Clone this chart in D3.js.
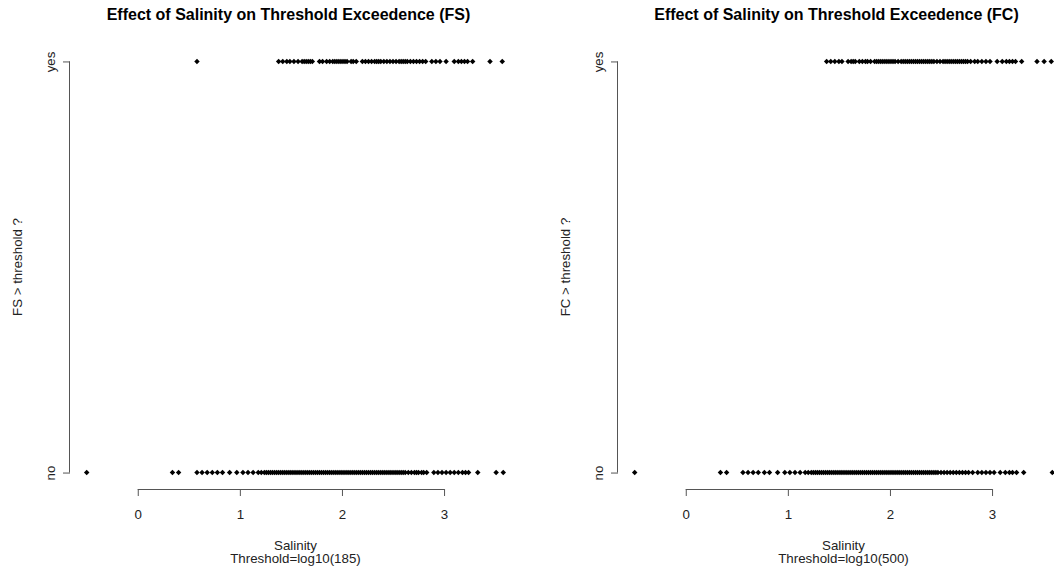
<!DOCTYPE html>
<html>
<head>
<meta charset="utf-8">
<script src="https://cdn.jsdelivr.net/npm/d3@7"></script>
<style>
  html, body { margin: 0; padding: 0; background: #fff; }
  svg { display: block; font-family: "Liberation Sans", Arial, Helvetica, sans-serif; }
</style>
</head>
<body>
<svg id="chart" width="1054" height="571"></svg>
<script>
// log10 salinity of samples, split by whether the indicator exceeded its threshold
const fsYes = [0.58, 1.38, 1.42, 1.46, 1.49, 1.53, 1.57, 1.61, 1.63, 1.65, 1.67, 1.69, 1.71,
  1.78, 1.81, 1.85, 1.88, 1.91, 1.93, 1.95, 1.97, 1.99, 2.01, 2.03, 2.05,
  2.09, 2.11, 2.14, 2.20, 2.23, 2.26, 2.29, 2.32, 2.34, 2.36, 2.38, 2.41, 2.44, 2.47, 2.50,
  2.53, 2.56, 2.58, 2.60, 2.62, 2.64, 2.67, 2.70, 2.73, 2.76, 2.79, 2.82,
  2.88, 2.92, 2.96, 3.02, 3.10, 3.14, 3.17, 3.20, 3.23, 3.28, 3.45, 3.57];
const fsNo = [-0.50, 0.34, 0.40, 0.58, 0.63, 0.68, 0.73, 0.78, 0.83, 0.90, 0.97, 1.03, 1.08, 1.13,
  1.18, 1.21, 1.24, 1.26, 1.28, 1.30, 1.32, 1.34, 1.36, 1.38, 1.40, 1.42, 1.44, 1.46, 1.48,
  1.50, 1.52, 1.54, 1.56, 1.58, 1.60, 1.62, 1.64, 1.66, 1.68, 1.70, 1.72, 1.74, 1.76, 1.78,
  1.80, 1.82, 1.84, 1.86, 1.88, 1.90, 1.92, 1.94, 1.96, 1.98, 2.00, 2.02, 2.04, 2.06, 2.08,
  2.10, 2.12, 2.14, 2.16, 2.18, 2.20, 2.22, 2.24, 2.26, 2.28, 2.30, 2.32, 2.34, 2.36, 2.38,
  2.40, 2.42, 2.44, 2.46, 2.48, 2.50, 2.52, 2.54, 2.56, 2.58, 2.60, 2.62, 2.65, 2.68, 2.71,
  2.73, 2.75, 2.78, 2.80, 2.83, 2.90, 2.94, 2.98, 3.02, 3.06, 3.10, 3.14, 3.18, 3.21, 3.24,
  3.33, 3.51, 3.58];
const fcYes = [1.38, 1.42, 1.46, 1.50, 1.53, 1.59, 1.62, 1.64, 1.66, 1.70, 1.73, 1.76, 1.78,
  1.81, 1.85, 1.87, 1.89, 1.91, 1.93, 1.95, 1.97, 1.99, 2.01, 2.03, 2.05, 2.08, 2.11, 2.13,
  2.15, 2.17, 2.19, 2.21, 2.23, 2.25, 2.27, 2.29, 2.31, 2.33, 2.35, 2.37, 2.39, 2.41, 2.43,
  2.46, 2.49, 2.52, 2.54, 2.56, 2.58, 2.60, 2.62, 2.64, 2.66, 2.68, 2.70, 2.72, 2.74, 2.76,
  2.79, 2.83, 2.86, 2.90, 2.94, 2.98, 3.05, 3.10, 3.14, 3.17, 3.20, 3.23, 3.29,
  3.44, 3.51, 3.58];
const fcNo = [-0.50, 0.34, 0.40, 0.56, 0.61, 0.66, 0.71, 0.77, 0.82, 0.90, 0.97, 1.02, 1.07, 1.12,
  1.17, 1.20, 1.23, 1.25, 1.27, 1.29, 1.31, 1.33, 1.35, 1.37, 1.39, 1.41, 1.43, 1.45, 1.47,
  1.49, 1.51, 1.53, 1.55, 1.57, 1.59, 1.61, 1.63, 1.65, 1.67, 1.69, 1.71, 1.73, 1.75, 1.77,
  1.79, 1.81, 1.83, 1.85, 1.87, 1.89, 1.91, 1.93, 1.95, 1.97, 1.99, 2.01, 2.03, 2.05, 2.07,
  2.09, 2.11, 2.13, 2.15, 2.17, 2.19, 2.21, 2.23, 2.25, 2.27, 2.29, 2.31, 2.33, 2.35, 2.37,
  2.39, 2.41, 2.43, 2.45, 2.47, 2.50, 2.53, 2.56, 2.59, 2.62, 2.65, 2.68, 2.71, 2.74, 2.77,
  2.81, 2.86, 2.90, 2.94, 2.98, 3.02, 3.08, 3.13, 3.17, 3.20, 3.24, 3.31, 3.59];

const xTicks = [0, 1, 2, 3];
const yTickValues = [0, 1];
const yTickLabels = ["no", "yes"];

const panels = [
  { title: "Effect of Salinity on Threshold Exceedence (FS)", ylab: "FS > threshold ?",
    sub: "Threshold=log10(185)", yes: fsYes, no: fsNo },
  { title: "Effect of Salinity on Threshold Exceedence (FC)", ylab: "FC > threshold ?",
    sub: "Threshold=log10(500)", yes: fcYes, no: fcNo }
];

const svg = d3.select("#chart");
const panelW = 548;
const plot = { left: 70, right: 521, top: 45, bottom: 489 };
const axisCol = "#555", textCol = "#222";
const fs = 13.3;

// x range padded by 4% on each side
const allX = fsYes.concat(fsNo, fcYes, fcNo);
const [xmin, xmax] = d3.extent(allX);
const pad = (xmax - xmin) * 0.04;
const x = d3.scaleLinear().domain([xmin - pad, xmax + pad]).range([plot.left, plot.right]);
const y = d3.scaleLinear().domain([-0.04, 1.04]).range([plot.bottom, plot.top]);
const diamond = d3.symbol().type(d3.symbolSquare).size(15);

panels.forEach((p, i) => {
  const g = svg.append("g").attr("transform", `translate(${i * panelW},0)`);
  const cx = (plot.left + plot.right) / 2;

  g.append("text").attr("x", cx - 7).attr("y", 20).attr("text-anchor", "middle")
    .attr("font-size", 16).attr("font-weight", "bold").attr("fill", "#000").text(p.title);

  // x axis
  const xa = g.append("g").attr("transform", `translate(0,${plot.bottom})`)
    .call(d3.axisBottom(x).tickValues(xTicks).tickFormat(d3.format("d")).tickSize(7).tickPadding(14).tickSizeOuter(0));
  xa.select(".domain").attr("d", `M${x(xTicks[0])},0.5H${x(xTicks[xTicks.length - 1])}`);
  xa.selectAll("line").attr("stroke", axisCol);
  xa.select(".domain").attr("stroke", axisCol);
  xa.selectAll("text").attr("font-size", fs).attr("fill", textCol).attr("font-family", null);

  // y axis with rotated tick labels
  const ya = g.append("g").attr("transform", `translate(${plot.left},0)`)
    .call(d3.axisLeft(y).tickValues(yTickValues).tickFormat((d, k) => yTickLabels[k]).tickSize(7).tickSizeOuter(0));
  ya.select(".domain").attr("d", `M-0.5,${y(1)}V${y(0)}`).attr("stroke", axisCol);
  ya.selectAll("line").attr("stroke", axisCol);
  ya.selectAll("text").attr("font-size", fs).attr("fill", textCol).attr("font-family", null)
    .attr("text-anchor", "middle").attr("x", null).attr("dy", null)
    .attr("transform", "translate(-15,0) rotate(-90)");

  g.append("text").attr("transform", `translate(22,${(plot.top + plot.bottom) / 2}) rotate(-90)`)
    .attr("text-anchor", "middle").attr("font-size", fs).attr("fill", textCol).text(p.ylab);
  g.append("text").attr("x", cx).attr("y", 550).attr("text-anchor", "middle")
    .attr("font-size", fs).attr("fill", textCol).text("Salinity");
  g.append("text").attr("x", cx).attr("y", 563).attr("text-anchor", "middle")
    .attr("font-size", fs).attr("fill", textCol).text(p.sub);

  const pts = p.yes.map(v => ({ v, c: 1 })).concat(p.no.map(v => ({ v, c: 0 })));
  g.append("g").selectAll("path").data(pts).join("path")
    .attr("d", diamond)
    .attr("transform", d => `translate(${x(d.v)},${y(d.c)}) rotate(45)`)
    .attr("fill", "#000");
});
</script>
</body>
</html>
